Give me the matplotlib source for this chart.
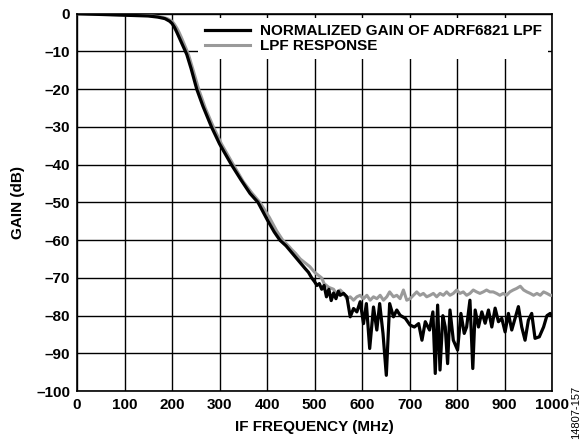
import matplotlib.pyplot as plt

plt.rcParams['font.family'] = ['Liberation Sans', 'DejaVu Sans']

# normalized gain of ADRF6821 LPF (black)
f_adrf = [0, 25, 50, 75, 100, 125, 150, 170, 185, 195, 200, 205, 210, 215, 220, 225,
          231, 240, 252, 265, 283, 300, 325, 345, 364, 381, 400, 415, 427, 440, 450,
          460, 470, 480, 487, 494, 500, 505, 510, 515, 520, 525, 530, 535, 540, 545, 550,
          554, 561, 568, 575, 582, 589, 596, 603, 609, 616, 624, 631, 637, 644, 651, 658,
          666, 673, 680, 691, 701, 710, 719, 726, 733, 742, 749, 754, 759, 764, 770, 775,
          780, 785, 792, 801, 808, 815, 820, 827, 833, 838, 845, 852, 859, 866, 873, 880,
          887, 894, 901, 908, 915, 922, 929, 936, 943, 950, 957, 964, 973, 982, 989, 996, 1000]
g_adrf = [0, -0.1, -0.2, -0.3, -0.4, -0.5, -0.6, -0.9, -1.3, -2.0, -2.6, -3.6, -4.9, -6.3, -7.7, -9.1,
          -10.8, -14.5, -20, -24.5, -30, -34.5, -40, -44, -47.6, -50, -54.5, -57.8, -60, -61.5, -63,
          -64.5, -66, -67.5, -68.5, -70, -71, -72, -71.5, -73, -72, -75, -73, -76, -74, -75.5, -73.5,
          -74.6, -74.1, -75.0, -80.3, -78.1, -79.0, -76.3, -82.1, -76.8, -88.7, -77.7, -83.8, -76.8, -84.7, -95.8, -76.8,
          -80.3, -78.5, -79.9, -80.7, -82.5, -83.0, -82.1, -86.5, -81.6, -83.8, -79.0, -95.3, -77.2, -94.4, -80.0, -83.0,
          -92.7, -78.5, -86.5, -89.1, -79.4, -84.7, -83.0, -75.9, -94.0, -78.5, -83.0, -79.0, -82.0, -78.5, -83.0, -78.0,
          -81.6, -80.7, -84.3, -79.4, -83.8, -80.7, -77.6, -83.0, -86.5, -81.2, -79.4, -86.0, -85.6, -83.0, -80.0, -79.4, -80.0]

# LPF response (grey)
f_lpf = [0, 50, 100, 150, 175, 190, 200, 205, 210, 215, 220, 225, 230, 235, 245, 256,
         270, 287, 304, 329, 350, 368, 385, 405, 420, 433, 445, 452, 460, 470, 480, 490,
         500, 510, 515, 520, 530, 540, 547, 554, 561, 568, 575, 582, 589, 596, 603, 610,
         617, 624, 631, 638, 645, 652, 658, 666, 673, 680, 687, 694, 701, 708, 715, 722,
         729, 736, 743, 750, 757, 764, 771, 778, 785, 792, 799, 806, 813, 820, 827, 834,
         841, 848, 855, 862, 869, 876, 883, 890, 897, 904, 911, 918, 925, 933, 940, 947,
         954, 961, 968, 975, 982, 989, 996, 1000]
g_lpf = [0, -0.15, -0.3, -0.5, -0.8, -1.3, -2.0, -2.8, -3.8, -5.0, -6.4, -7.9, -9.4, -11.0, -15.2, -20,
         -25, -30, -34.5, -40, -44.5, -47.5, -50, -54, -57.5, -60, -61.5, -62.5, -63.5, -65, -66, -67,
         -68.5, -69.5, -70, -71.5, -72.5, -73, -74.5, -73.2, -74.1, -75.5, -75.0, -75.9, -75.0, -74.6, -75.5, -74.6,
         -75.9, -75.0, -75.5, -74.6, -75.9, -75.0, -73.7, -75.0, -74.6, -75.5, -73.2, -75.9, -75.5, -74.6, -73.7, -74.6,
         -74.1, -75.0, -74.6, -74.1, -75.0, -74.1, -74.6, -73.7, -74.6, -74.1, -73.2, -74.1, -73.7, -74.6, -74.1, -73.2,
         -73.7, -74.1, -73.7, -73.2, -73.7, -73.7, -74.1, -74.6, -74.1, -74.6, -73.7, -73.2, -72.8, -72.2, -73.2, -73.7,
         -74.1, -74.6, -74.1, -74.6, -73.7, -74.1, -74.6, -74.6]

xticks = list(range(0, 1001, 100))
yticks = list(range(0, -101, -10))
ytick_labels = ['0'] + ['\u2013' + str(-v) for v in yticks[1:]]

fig = plt.figure(figsize=(5.88, 4.42), dpi=100)
ax = fig.add_axes([0.131, 0.115, 0.808, 0.854])

ax.plot(f_lpf, g_lpf, color='#9a9a9a', lw=2.2, label='LPF RESPONSE', zorder=3)
ax.plot(f_adrf, g_adrf, color='black', lw=2.3, label='NORMALIZED GAIN OF ADRF6821 LPF', zorder=4)

ax.set_xlim(0, 1000)
ax.set_ylim(-100, 0)
ax.set_xticks(xticks)
ax.set_xticklabels([str(v) for v in xticks], fontweight='bold', fontsize=11)
ax.set_yticks(yticks)
ax.set_yticklabels(ytick_labels, fontweight='bold', fontsize=11)
ax.tick_params(length=0, pad=5)
ax.grid(True, color='black', lw=1.0)
for s in ax.spines.values():
    s.set_linewidth(1.2)

ax.set_xlabel('IF FREQUENCY (MHz)', fontweight='bold', fontsize=11, labelpad=6)
ax.set_ylabel('GAIN (dB)', fontweight='bold', fontsize=11, labelpad=8)

h, l = ax.get_legend_handles_labels()
leg = ax.legend(h[::-1], l[::-1], loc='upper right', bbox_to_anchor=(1.0, 1.0),
                frameon=True, fancybox=False, edgecolor='none', framealpha=1,
                prop={'weight': 'bold', 'size': 11}, handlelength=3.0,
                labelspacing=0.05, borderaxespad=0.3, handletextpad=0.6)

fig.text(0.98, 0.068, '14807-157', rotation=90, fontsize=8, ha='center', va='center')

fig.savefig('out.png', dpi=100)
